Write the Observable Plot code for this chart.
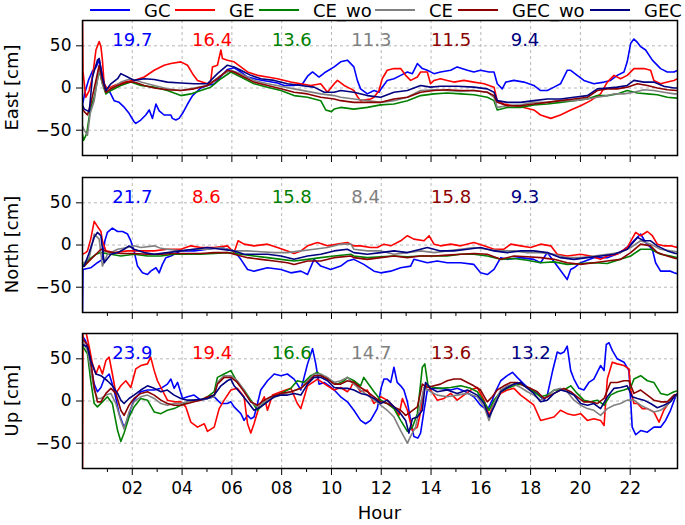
<!DOCTYPE html>
<html>
<head>
<meta charset="utf-8">
<script src="https://cdn.jsdelivr.net/npm/d3@7"></script>
<script src="https://cdn.jsdelivr.net/npm/@observablehq/plot@0.6"></script>
<style>
  body { margin: 0; background: white; }
  #fig { position: relative; width: 685px; height: 525px; overflow: hidden; background: white; font-family: "DejaVu Sans", sans-serif; }
  #fig svg { position: absolute; left: 0; }
</style>
</head>
<body>
<div id="fig"></div>
<script>
// ---------- series / legend ----------
const seriesNames = ["GC", "GE", "CE_wo", "CE", "GEC_wo", "GEC"];
const seriesColors = ["#0000ff", "#ff0000", "#008000", "#808080", "#8b0000", "#000080"];

// ---------- axis ticks ----------
const majorHours = [2, 4, 6, 8, 10, 12, 14, 16, 18, 20, 22];
const minorHours = [1, 3, 5, 7, 9, 11, 13, 15, 17, 19, 21, 23];
const yTicks = [-50, 0, 50];

// ---------- RMS annotations ----------
const eastRms = [19.7, 16.4, 13.6, 11.3, 11.5, 9.4];
const northRms = [21.7, 8.6, 15.8, 8.4, 15.8, 9.3];
const upRms = [23.9, 19.4, 16.6, 14.7, 13.6, 13.2];

// ---------- EAST [hour, cm] ----------
const eastGC = [[0,-20],[0.1,-5],[0.25,10],[0.4,20],[0.55,25],[0.67,33],[0.8,15],[0.94,-3],[1.1,-5],[1.27,-15],[1.47,-17],[1.65,-22],[1.87,-30],[2.07,-40],[2.14,-42],[2.34,-38],[2.54,-32],[2.68,-26],[2.81,-36],[2.95,-19],[3.08,-27],[3.28,-32],[3.55,-32],[3.61,-36],[3.75,-38],[3.88,-36],[4.02,-30],[4.22,-19],[4.42,-9],[4.75,0],[5.02,3],[5.3,5],[5.6,15],[5.82,22],[6.09,24],[6.36,19],[6.63,13],[7.03,10],[7.43,8],[7.83,6],[8.1,3],[8.5,3],[8.84,5],[9.04,14],[9.24,19],[9.5,13],[9.77,19],[10.11,25],[10.37,31],[10.64,33],[10.9,25],[11.04,9],[11.17,-1],[11.44,-7],[11.71,-3],[11.91,-5],[12.04,1],[12.24,9],[12.51,11],[12.78,15],[13.05,19],[13.25,17],[13.45,29],[13.65,23],[13.85,21],[14.12,17],[14.38,19],[14.79,21],[15.05,25],[15.46,21],[15.72,19],[15.99,21],[16.33,19],[16.53,19],[16.66,5],[16.86,-1],[17.0,7],[17.33,9],[17.73,7],[18.13,3],[18.4,-3],[18.67,-3],[18.94,1],[19.2,5],[19.47,21],[19.61,21],[19.87,15],[20.14,9],[20.54,5],[20.95,7],[21.21,9],[21.48,15],[21.75,19],[21.88,31],[22.02,53],[22.15,58],[22.29,54],[22.42,49],[22.62,45],[22.89,33],[23.22,23],[23.49,19],[23.76,19],[23.9,21]];
const eastGE = [[0,80],[0.02,20],[0.13,-11],[0.27,-3],[0.4,13],[0.54,45],[0.67,55],[0.74,49],[0.8,33],[0.87,5],[1.0,-1],[1.27,3],[1.67,7],[2.07,9],[2.48,13],[2.88,21],[3.28,27],[3.55,29],[3.95,31],[4.22,27],[4.42,17],[4.62,9],[5.02,5],[5.15,8],[5.22,25],[5.42,27],[5.56,45],[5.62,35],[5.82,33],[6.09,31],[6.36,25],[6.63,19],[7.03,15],[7.43,13],[7.83,11],[8.37,7],[8.77,5],[9.17,3],[9.57,5],[9.84,-5],[10.11,5],[10.24,9],[10.51,3],[10.78,-1],[10.9,-3],[11.04,-10],[11.17,-15],[11.57,-13],[11.71,-11],[11.91,-3],[12.04,11],[12.24,21],[12.51,23],[12.78,23],[12.98,15],[13.18,9],[13.45,13],[13.58,19],[13.85,19],[13.98,5],[14.12,9],[14.38,11],[14.65,9],[14.92,7],[15.32,9],[15.72,7],[16.13,5],[16.53,1],[16.66,-15],[16.93,-19],[17.33,-21],[17.73,-23],[18.13,-26],[18.4,-32],[18.81,-36],[19.2,-32],[19.61,-26],[20.01,-21],[20.41,-15],[20.81,-7],[21.08,7],[21.35,15],[21.61,11],[21.88,15],[22.15,23],[22.55,23],[22.82,21],[22.95,9],[23.22,5],[23.49,7],[23.76,9],[23.9,11]];
const eastCEwo = [[0,-55],[0.04,-62],[0.17,-54],[0.31,-26],[0.47,-11],[0.67,21],[0.8,5],[0.94,-7],[1.14,-3],[1.54,3],[1.94,7],[2.34,3],[2.88,1],[3.41,-3],[3.95,-9],[4.35,-7],[4.75,-3],[5.15,1],[5.56,11],[5.96,19],[6.36,13],[6.89,5],[7.43,1],[7.97,-3],[8.5,-9],[9.04,-11],[9.57,-15],[9.77,-26],[10.0,-28],[10.11,-25],[10.37,-23],[10.9,-25],[11.44,-23],[11.98,-20],[12.51,-19],[13.05,-15],[13.58,-9],[14.12,-7],[14.65,-6],[15.19,-7],[15.72,-8],[16.26,-11],[16.53,-15],[16.66,-26],[17.06,-23],[17.6,-23],[18.13,-20],[18.67,-19],[19.2,-17],[19.74,-15],[20.28,-13],[20.68,-9],[21.08,-9],[21.48,-7],[21.88,-3],[22.29,-6],[22.69,-7],[23.09,-8],[23.49,-11],[23.9,-12]];
const eastCE = [[0,-45],[0.07,-50],[0.2,-56],[0.31,-30],[0.47,-15],[0.67,23],[0.8,5],[0.94,-5],[1.14,-1],[1.54,7],[1.94,11],[2.34,7],[2.88,3],[3.41,-1],[3.95,-3],[4.48,0],[5.02,3],[5.56,15],[5.96,21],[6.36,17],[6.89,9],[7.43,5],[7.97,2],[8.5,-1],[9.04,-4],[9.57,-7],[10.11,-9],[10.37,-11],[10.9,-13],[11.44,-15],[11.98,-17],[12.51,-15],[13.05,-11],[13.58,-3],[14.12,-2],[14.65,-3],[15.19,-4],[15.72,-3],[16.26,-5],[16.53,-11],[16.66,-23],[17.06,-21],[17.6,-20],[18.13,-17],[18.67,-17],[19.2,-15],[19.74,-15],[20.28,-13],[20.68,-11],[21.08,-9],[21.35,-7],[21.75,-7],[22.15,-5],[22.55,-2],[22.95,-3],[23.35,-5],[23.76,-7],[23.9,-7]];
const eastGECwo = [[0,-25],[0.07,-28],[0.2,-32],[0.33,-19],[0.54,9],[0.67,27],[0.8,9],[0.94,-5],[1.14,-1],[1.41,3],[1.81,7],[2.07,7],[2.48,3],[2.88,0],[3.41,-2],[3.95,-3],[4.48,-1],[5.02,3],[5.42,11],[5.82,21],[6.09,19],[6.49,13],[6.89,7],[7.43,3],[7.97,-1],[8.5,-5],[9.04,-7],[9.57,-11],[10.11,-13],[10.37,-15],[10.9,-17],[11.44,-17],[11.98,-17],[12.51,-13],[13.05,-11],[13.58,-5],[14.12,-3],[14.65,-2],[15.19,-3],[15.72,-3],[16.26,-5],[16.53,-9],[16.66,-17],[17.06,-21],[17.6,-21],[18.13,-19],[18.67,-17],[19.2,-15],[19.74,-13],[20.28,-11],[20.68,-3],[21.08,-1],[21.48,-1],[21.88,1],[22.29,5],[22.69,3],[23.09,0],[23.49,-2],[23.9,-3]];
const eastGEC = [[0,-20],[0.07,-25],[0.27,-28],[0.4,13],[0.6,33],[0.67,35],[0.8,13],[0.94,-3],[1.14,5],[1.41,11],[1.54,17],[1.81,13],[2.07,9],[2.48,11],[2.88,10],[3.41,7],[3.95,6],[4.48,5],[5.02,5],[5.42,17],[5.82,27],[6.09,25],[6.36,21],[6.76,15],[7.16,11],[7.7,9],[8.23,5],[8.77,3],[9.3,1],[9.71,-5],[10.11,-5],[10.37,-3],[10.9,-5],[11.44,-9],[11.98,-11],[12.51,-5],[13.05,-3],[13.58,3],[13.98,1],[14.38,2],[15.05,2],[15.72,1],[16.26,-1],[16.53,-5],[16.66,-15],[17.06,-17],[17.6,-17],[18.13,-15],[18.67,-13],[19.2,-13],[19.74,-11],[20.28,-9],[20.68,-1],[21.08,0],[21.48,1],[21.88,3],[22.15,9],[22.55,7],[22.95,7],[23.35,2],[23.76,0],[23.9,0]];

// ---------- NORTH [hour, cm] ----------
const northGC = [[0,-80],[0.02,-29],[0.33,-27],[0.6,-21],[0.8,-17],[0.9,5],[1.0,15],[1.2,20],[1.41,16],[1.61,16],[1.81,13],[1.94,5],[2.07,-7],[2.21,-25],[2.41,-33],[2.61,-35],[2.74,-31],[2.95,-27],[3.08,-33],[3.21,-23],[3.35,-15],[3.55,-13],[3.95,-7],[4.48,-7],[5.02,-5],[5.56,-3],[6.09,-7],[6.36,-17],[6.63,-29],[6.89,-31],[7.43,-27],[7.97,-29],[8.37,-33],[8.77,-31],[9.04,-35],[9.3,-17],[9.57,-25],[9.97,-29],[10.37,-25],[10.64,-19],[10.9,-17],[11.3,-23],[11.71,-31],[11.98,-33],[12.38,-31],[12.78,-27],[13.18,-25],[13.31,-17],[13.85,-21],[14.25,-19],[14.65,-21],[15.19,-21],[15.72,-23],[15.99,-33],[16.26,-35],[16.53,-29],[16.8,-15],[17.06,-17],[17.6,-15],[18.13,-17],[18.4,-21],[18.67,-9],[19.07,-25],[19.27,-33],[19.47,-41],[19.61,-29],[19.74,-27],[20.01,-21],[20.54,-15],[21.08,-15],[21.61,-9],[22.02,1],[22.22,7],[22.42,13],[22.62,3],[22.89,-5],[23.02,-21],[23.22,-31],[23.62,-31],[23.76,-33],[23.9,-34]];
const northGE = [[0,-11],[0.13,-9],[0.2,-7],[0.33,7],[0.47,28],[0.6,22],[0.74,16],[0.8,5],[0.94,-7],[1.27,-9],[1.81,-7],[2.34,-7],[2.88,-7],[3.41,-5],[3.95,-5],[4.35,-1],[4.75,-3],[5.29,-3],[5.82,-1],[6.09,-9],[6.25,5],[6.49,1],[6.89,-1],[7.43,1],[7.83,-3],[8.23,-7],[8.5,-10],[8.77,-7],[9.04,-1],[9.44,3],[9.84,-1],[10.24,1],[10.64,3],[10.9,-1],[11.17,-1],[11.57,-3],[11.84,-3],[12.11,1],[12.38,-1],[12.78,5],[13.05,11],[13.31,7],[13.72,5],[13.92,11],[14.12,1],[14.38,-1],[14.79,1],[15.19,-1],[15.72,3],[16.13,-1],[16.53,-5],[16.93,-5],[17.2,1],[17.6,-1],[18.0,-3],[18.4,1],[18.81,-1],[19.07,-11],[19.47,-13],[20.01,-11],[20.41,-13],[20.81,-17],[21.08,-13],[21.48,-11],[21.88,-3],[22.22,15],[22.42,11],[22.69,16],[22.89,11],[23.09,1],[23.35,-1],[23.62,-1],[23.9,-3]];
const northCEwo = [[0,-23],[0.07,-23],[0.27,-17],[0.54,-11],[0.74,-9],[1.14,-11],[1.54,-13],[2.07,-11],[2.61,-13],[3.15,-13],[3.68,-11],[4.22,-11],[4.75,-11],[5.29,-10],[5.82,-9],[6.36,-11],[6.89,-13],[7.43,-15],[7.97,-17],[8.5,-19],[9.04,-17],[9.57,-15],[10.11,-13],[10.78,-11],[10.9,-13],[11.44,-15],[11.98,-14],[12.51,-13],[13.05,-14],[13.58,-13],[14.12,-13],[14.65,-13],[15.19,-11],[15.72,-11],[16.26,-13],[16.8,-17],[17.33,-16],[17.87,-18],[18.4,-21],[18.94,-20],[19.47,-23],[20.01,-22],[20.54,-21],[21.08,-22],[21.61,-17],[22.02,-13],[22.42,-5],[22.82,-5],[23.22,-11],[23.62,-13],[23.9,-15]];
const northCE = [[0,-21],[0.07,-21],[0.27,-15],[0.47,13],[0.67,7],[0.8,-25],[1.0,-11],[1.41,-5],[1.81,-3],[2.07,-1],[2.34,-3],[2.88,-1],[3.15,-4],[3.41,-5],[3.95,-7],[4.48,-5],[5.02,-5],[5.56,-3],[6.09,-7],[6.63,-7],[7.16,-8],[7.7,-9],[8.23,-9],[8.77,-7],[9.3,-5],[9.84,-3],[10.37,1],[10.78,1],[10.9,-5],[11.44,-7],[11.98,-7],[12.51,-11],[13.05,-9],[13.58,-7],[14.12,-9],[14.65,-7],[15.19,-5],[15.72,-3],[16.26,-5],[16.8,-7],[17.33,-7],[17.87,-9],[18.4,-9],[18.94,-11],[19.47,-15],[20.01,-15],[20.54,-13],[21.08,-11],[21.61,-9],[22.02,-3],[22.42,5],[22.82,1],[23.22,-5],[23.62,-7],[23.9,-8]];
const northGECwo = [[0,-25],[0.07,-25],[0.27,-19],[0.54,-11],[0.74,-5],[1.0,-8],[1.54,-10],[2.07,-10],[2.61,-11],[3.15,-11],[3.68,-10],[4.22,-10],[4.75,-10],[5.29,-9],[5.82,-9],[6.09,-11],[6.63,-15],[7.16,-17],[7.7,-19],[8.23,-21],[8.5,-23],[9.04,-19],[9.57,-19],[10.11,-15],[10.78,-13],[10.9,-15],[11.44,-17],[11.98,-15],[12.51,-13],[13.05,-15],[13.58,-13],[14.12,-13],[14.65,-12],[15.19,-11],[15.72,-10],[16.26,-11],[16.8,-17],[17.33,-13],[17.87,-14],[18.4,-15],[18.94,-17],[19.47,-21],[20.01,-23],[20.54,-21],[21.08,-19],[21.61,-17],[22.02,-9],[22.42,1],[22.82,-1],[23.09,-9],[23.49,-13],[23.82,-16],[23.9,-16]];
const northGEC = [[0,-25],[0.07,-25],[0.27,-9],[0.47,9],[0.6,15],[0.74,11],[0.87,-21],[1.14,-11],[1.41,-9],[1.67,-5],[1.87,-1],[2.07,-5],[2.48,-9],[2.88,-11],[3.41,-9],[3.95,-7],[4.48,-5],[5.02,-3],[5.56,-5],[6.09,-7],[6.49,-11],[6.89,-11],[7.43,-11],[7.97,-13],[8.5,-17],[9.04,-13],[9.57,-11],[10.11,-7],[10.64,-5],[10.9,-9],[11.44,-11],[11.98,-9],[12.51,-7],[13.05,-9],[13.58,-5],[13.85,-3],[14.38,-7],[14.92,-7],[15.46,-5],[15.99,-3],[16.53,-7],[17.06,-9],[17.6,-7],[18.13,-7],[18.67,-9],[19.2,-15],[19.74,-17],[20.28,-15],[20.81,-13],[21.35,-11],[21.88,-5],[22.29,9],[22.55,5],[22.82,5],[23.09,-1],[23.49,-7],[23.82,-10],[23.9,-10]];

// ---------- UP [hour, cm] ----------
const upGC = [[0,77],[0.13,71],[0.27,52],[0.47,20],[0.6,11],[0.74,16],[0.87,26],[1.07,32],[1.27,13],[1.47,-15],[1.67,-31],[1.81,-23],[1.94,-9],[2.07,1],[2.34,11],[2.61,13],[2.88,13],[3.15,15],[3.41,20],[3.55,26],[3.68,15],[3.82,22],[4.02,3],[4.22,5],[4.48,7],[4.75,1],[5.02,3],[5.29,5],[5.42,1],[5.56,-3],[5.82,-3],[5.96,-1],[6.09,-7],[6.36,-15],[6.49,-23],[6.63,-17],[6.76,-21],[6.89,-19],[7.03,-3],[7.16,13],[7.43,24],[7.7,32],[7.97,30],[8.23,32],[8.5,26],[8.63,20],[8.77,13],[9.04,44],[9.24,62],[9.37,44],[9.5,20],[9.71,22],[9.91,18],[10.11,13],[10.37,5],[10.64,-1],[10.9,-11],[11.17,-23],[11.37,-27],[11.57,-23],[11.84,-9],[12.0,16],[12.11,26],[12.24,26],[12.38,22],[12.51,40],[12.64,22],[12.78,18],[12.91,13],[13.05,-1],[13.18,-23],[13.31,-42],[13.47,-44],[13.58,-38],[13.72,-11],[13.85,13],[14.12,15],[14.38,15],[14.79,13],[15.05,15],[15.39,11],[15.72,5],[15.99,-5],[16.26,-11],[16.46,1],[16.59,11],[16.8,24],[17.06,30],[17.27,34],[17.46,28],[17.73,20],[18.0,13],[18.27,9],[18.54,1],[18.67,7],[18.87,34],[19.07,58],[19.2,56],[19.34,58],[19.47,65],[19.61,36],[19.74,26],[19.94,15],[20.14,13],[20.34,22],[20.54,26],[20.81,42],[20.95,36],[21.04,67],[21.15,69],[21.28,60],[21.48,50],[21.75,46],[21.95,36],[22.08,-31],[22.22,-40],[22.42,-35],[22.69,-37],[22.95,-31],[23.22,-31],[23.42,-23],[23.62,-11],[23.82,5],[23.9,8]];
const upGE = [[0,-80],[0.02,80],[0.13,83],[0.27,64],[0.4,44],[0.54,32],[0.67,42],[0.8,32],[0.94,48],[1.07,52],[1.2,32],[1.34,9],[1.54,18],[1.74,24],[1.94,16],[2.14,38],[2.34,42],[2.61,44],[2.74,52],[2.88,36],[3.01,24],[3.15,16],[3.41,1],[3.68,-1],[3.95,-1],[4.15,-7],[4.35,-25],[4.62,-31],[4.89,-27],[5.02,-36],[5.29,-31],[5.49,-9],[5.69,1],[5.96,13],[6.22,15],[6.49,5],[6.63,-27],[6.76,-38],[6.89,-27],[7.09,-7],[7.3,5],[7.43,-11],[7.63,7],[7.97,11],[8.37,15],[8.63,-3],[8.77,-9],[9.04,18],[9.44,26],[9.84,18],[10.11,13],[10.37,16],[10.64,11],[10.78,16],[10.9,24],[11.17,11],[11.44,13],[11.71,-3],[11.98,5],[12.24,1],[12.51,-7],[12.71,-17],[12.85,3],[13.05,-11],[13.25,-35],[13.45,-31],[13.58,-13],[13.72,16],[13.85,20],[13.98,13],[14.25,1],[14.52,3],[14.79,9],[15.05,1],[15.32,7],[15.59,13],[15.86,16],[16.13,1],[16.33,-17],[16.53,-3],[16.8,9],[17.06,13],[17.33,15],[17.6,7],[17.87,1],[18.13,-5],[18.4,-23],[18.67,-21],[18.94,-19],[19.2,-11],[19.47,-15],[19.74,-17],[20.01,-15],[20.28,-23],[20.54,-21],[20.81,-23],[20.95,-29],[21.08,26],[21.28,46],[21.48,44],[21.75,42],[21.95,38],[22.02,13],[22.15,-3],[22.29,-3],[22.49,-9],[22.69,-9],[22.95,-13],[23.16,-25],[23.35,-11],[23.62,1],[23.82,7],[23.9,8]];
const upCEwo = [[0,65],[0.2,56],[0.33,24],[0.47,-3],[0.6,-7],[0.8,-1],[1.0,5],[1.2,-3],[1.41,-35],[1.54,-48],[1.67,-38],[1.87,-19],[2.07,-7],[2.34,3],[2.61,1],[2.88,-13],[3.15,-15],[3.41,-11],[3.68,-9],[3.95,-5],[4.22,-1],[4.48,1],[4.75,1],[5.02,5],[5.29,11],[5.42,28],[5.69,32],[5.96,36],[6.22,22],[6.49,13],[6.76,1],[7.03,-11],[7.3,-3],[7.56,3],[7.97,9],[8.37,15],[8.63,24],[8.9,22],[9.17,30],[9.44,34],[9.71,28],[9.97,24],[10.24,20],[10.51,24],[10.64,28],[10.9,24],[11.17,18],[11.3,28],[11.44,22],[11.71,11],[11.98,1],[12.24,-3],[12.51,-9],[12.78,-23],[13.05,-36],[13.25,-31],[13.45,-15],[13.65,40],[13.75,44],[13.88,18],[14.12,16],[14.38,15],[14.79,16],[15.19,18],[15.59,15],[15.86,11],[16.13,-1],[16.33,-11],[16.53,1],[16.8,11],[17.06,15],[17.33,18],[17.6,20],[17.87,16],[18.13,11],[18.4,5],[18.67,7],[18.94,13],[19.34,13],[19.61,18],[19.87,9],[20.14,1],[20.41,-1],[20.68,1],[20.95,-5],[21.21,7],[21.48,11],[21.75,13],[22.02,16],[22.15,26],[22.42,30],[22.69,24],[22.95,22],[23.22,9],[23.49,7],[23.76,11],[23.9,12]];
const upCE = [[0,71],[0.2,60],[0.33,36],[0.47,13],[0.6,3],[0.74,3],[0.94,7],[1.14,9],[1.34,-3],[1.54,-23],[1.67,-33],[1.87,-13],[2.07,-1],[2.34,5],[2.61,7],[2.88,3],[3.15,-3],[3.41,-5],[3.68,-3],[3.95,-3],[4.22,-1],[4.48,1],[4.75,1],[5.02,3],[5.29,5],[5.42,22],[5.69,30],[5.96,30],[6.22,24],[6.49,13],[6.76,-1],[7.03,-7],[7.3,-1],[7.56,3],[7.97,7],[8.37,11],[8.77,15],[9.04,24],[9.3,32],[9.57,32],[9.84,28],[10.11,22],[10.37,24],[10.64,28],[10.9,20],[11.17,13],[11.44,7],[11.71,1],[11.98,-5],[12.24,-11],[12.51,-19],[12.78,-35],[13.05,-50],[13.18,-42],[13.38,-31],[13.58,-3],[13.72,16],[13.98,11],[14.25,7],[14.65,5],[15.05,7],[15.46,9],[15.86,5],[16.13,-7],[16.33,-23],[16.53,-3],[16.8,13],[17.06,18],[17.33,20],[17.6,16],[17.87,11],[18.13,7],[18.4,1],[18.67,5],[18.94,13],[19.2,15],[19.47,11],[19.74,1],[20.01,-5],[20.28,-9],[20.54,-11],[20.81,-17],[21.08,-9],[21.35,-5],[21.61,-3],[21.88,1],[22.15,1],[22.42,-5],[22.69,-9],[22.95,-13],[23.22,-11],[23.49,-5],[23.76,5],[23.9,7]];
const upGECwo = [[0,73],[0.2,67],[0.33,48],[0.47,16],[0.6,-1],[0.74,-1],[0.94,9],[1.14,15],[1.34,9],[1.54,-11],[1.67,-17],[1.87,-5],[2.07,3],[2.34,9],[2.61,11],[2.88,7],[3.15,1],[3.41,-3],[3.68,-5],[3.95,-5],[4.22,-3],[4.48,-1],[4.75,1],[5.02,5],[5.29,7],[5.42,20],[5.69,28],[5.96,28],[6.22,22],[6.49,11],[6.76,-1],[7.03,-5],[7.3,1],[7.56,5],[7.97,9],[8.37,11],[8.77,15],[9.04,22],[9.3,30],[9.57,30],[9.84,26],[10.11,20],[10.37,20],[10.64,24],[10.9,22],[11.17,16],[11.44,11],[11.71,5],[11.98,-1],[12.24,-3],[12.51,-7],[12.78,-11],[12.98,-17],[13.18,-13],[13.45,-7],[13.65,20],[13.85,16],[14.12,18],[14.38,20],[14.65,24],[14.92,26],[15.19,26],[15.46,22],[15.72,18],[15.99,13],[16.26,-1],[16.46,5],[16.66,13],[16.93,18],[17.2,22],[17.46,22],[17.73,18],[18.0,15],[18.27,11],[18.54,3],[18.81,7],[19.07,11],[19.34,15],[19.61,11],[19.87,5],[20.14,-1],[20.41,-1],[20.68,-3],[20.95,3],[21.21,22],[21.48,22],[21.75,24],[21.95,24],[22.15,9],[22.42,13],[22.69,7],[22.95,1],[23.22,-1],[23.49,-1],[23.76,7],[23.9,8]];
const upGEC = [[0,67],[0.2,64],[0.33,48],[0.54,32],[0.74,30],[1.0,24],[1.2,18],[1.41,9],[1.54,1],[1.67,-3],[1.87,3],[2.07,7],[2.34,13],[2.61,18],[2.88,15],[3.15,11],[3.41,13],[3.68,7],[3.95,3],[4.22,1],[4.48,1],[4.75,2],[5.02,3],[5.29,7],[5.56,18],[5.82,24],[5.96,26],[6.09,18],[6.36,9],[6.63,-1],[6.89,-11],[7.16,-7],[7.43,-1],[7.7,5],[7.97,7],[8.23,7],[8.5,9],[8.77,7],[9.04,20],[9.3,28],[9.57,28],[9.84,24],[10.11,16],[10.37,15],[10.64,15],[10.9,13],[11.17,9],[11.44,7],[11.71,3],[11.98,-3],[12.24,1],[12.51,-7],[12.78,-15],[12.98,-23],[13.11,-38],[13.25,-21],[13.45,-19],[13.65,-11],[13.78,22],[13.98,15],[14.25,11],[14.65,13],[15.05,9],[15.46,13],[15.86,7],[16.13,-3],[16.33,-19],[16.53,-7],[16.8,11],[17.06,16],[17.33,20],[17.6,22],[17.87,15],[18.13,9],[18.4,-1],[18.67,1],[18.94,9],[19.2,13],[19.47,11],[19.74,7],[20.01,-3],[20.28,-5],[20.54,-3],[20.81,-9],[21.08,5],[21.35,15],[21.61,16],[21.88,18],[22.08,5],[22.29,3],[22.55,1],[22.82,-3],[23.09,-8],[23.35,-5],[23.62,-1],[23.82,7],[23.9,8]];

// ---------- panels ----------
const panels = [
  {label: "East [cm]", series: [eastGC, eastGE, eastCEwo, eastCE, eastGECwo, eastGEC], rms: eastRms},
  {label: "North [cm]", series: [northGC, northGE, northCEwo, northCE, northGECwo, northGEC], rms: northRms},
  {label: "Up [cm]", series: [upGC, upGE, upCEwo, upCE, upGECwo, upGEC], rms: upRms}
];

// layout
const W = 685, ML = 82, MR = 8, FRAME_H = 135;
const panelTops = [18, 175, 331];
const annotHours = [1.2, 4.4, 7.6, 10.8, 14.0, 17.2];
const FONT = "DejaVu Sans";

const fig = document.getElementById("fig");

panels.forEach((p, pi) => {
  const isBottom = pi === panels.length - 1;
  const rows = [];
  seriesNames.forEach((s, i) => p.series[i].forEach(([h, v]) => rows.push({s, h, v})));
  const annot = p.rms.map((r, i) => ({r, s: seriesNames[i], h: annotHours[i]}));
  const marginBottom = isBottom ? 57 : 12;
  const svg = Plot.plot({
    width: W,
    height: 2 + FRAME_H + marginBottom,
    marginLeft: ML, marginRight: MR, marginTop: 2, marginBottom,
    style: {fontFamily: FONT, fontSize: "17px", color: "black", background: "transparent", overflow: "visible"},
    x: {domain: [0, 23.9]},
    y: {domain: [-80, 80]},
    color: {domain: seriesNames, range: seriesColors},
    marks: [
      Plot.gridX(majorHours, {stroke: "#b0b0b0", strokeOpacity: 1, strokeWidth: 0.9, strokeDasharray: "3,3"}),
      Plot.gridY(yTicks, {stroke: "#b0b0b0", strokeOpacity: 1, strokeWidth: 0.9, strokeDasharray: "3,3"}),
      Plot.line(rows, {x: "h", y: "v", z: "s", stroke: "s", strokeWidth: 1.6, clip: true}),
      Plot.text(annot, {x: "h", y: () => 57, text: d => d.r.toFixed(1), fill: "s", textAnchor: "start", lineAnchor: "middle", fontSize: 18}),
      Plot.axisY(yTicks, {tickSize: 6, tickPadding: 5, label: null, fontSize: 17}),
      Plot.axisX(majorHours, {tickSize: 7, tickPadding: 6, label: null, fontSize: 17,
        tickFormat: isBottom ? (d => String(d).padStart(2, "0")) : (() => "")}),
      Plot.axisX(minorHours, {tickSize: 4, label: null, tickFormat: () => ""}),
      Plot.frame({stroke: "black", strokeWidth: 1.5})
    ]
  });
  svg.style.top = panelTops[pi] + "px";
  d3.select(svg).append("text")
    .attr("transform", `translate(18,${2 + FRAME_H / 2}) rotate(-90)`)
    .attr("text-anchor", "middle").attr("font-family", FONT).attr("font-size", 18)
    .attr("fill", "black").text(p.label);
  if (isBottom) {
    d3.select(svg).append("text")
      .attr("x", ML + (W - ML - MR) / 2).attr("y", 2 + FRAME_H + 51)
      .attr("text-anchor", "middle").attr("font-family", FONT).attr("font-size", 18)
      .attr("fill", "black").text("Hour");
  }
  fig.appendChild(svg);
});

// legend (drawn last so nothing covers it)
const legendLineX = [90, 175, 259, 375, 458, 590];
const leg = d3.create("svg").attr("width", W).attr("height", 24).style("top", "0px").style("overflow", "visible");
seriesNames.forEach((name, i) => {
  leg.append("line").attr("x1", legendLineX[i]).attr("x2", legendLineX[i] + 40)
    .attr("y1", 10).attr("y2", 10).attr("stroke", seriesColors[i]).attr("stroke-width", 1.8);
  leg.append("text").attr("x", legendLineX[i] + 54).attr("y", 17)
    .attr("font-family", FONT).attr("font-size", 18).attr("fill", "black").text(name);
});
fig.appendChild(leg.node());
</script>
</body>
</html>
